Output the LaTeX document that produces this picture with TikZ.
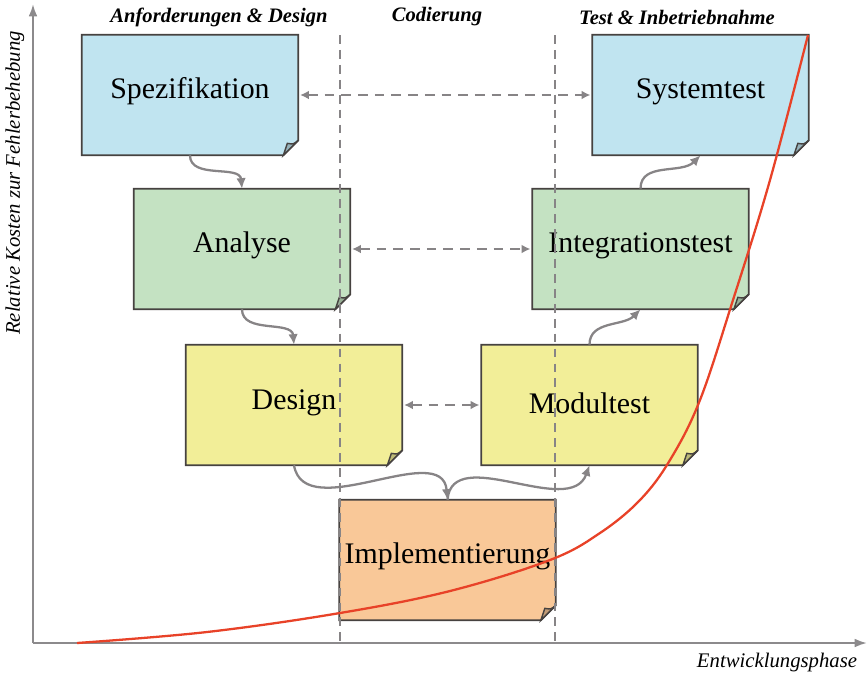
\documentclass[tikz,border=0pt]{standalone}
\usepackage{fontspec}
\setmainfont{Liberation Serif}
\usetikzlibrary{arrows.meta,calc,positioning}
\definecolor{specblue}{RGB}{192,228,240}
\definecolor{anagreen}{RGB}{196,226,194}
\definecolor{desyellow}{RGB}{242,238,152}
\definecolor{implorange}{RGB}{249,200,152}
\definecolor{edgegray}{RGB}{70,66,64}
\definecolor{flowgray}{RGB}{135,132,134}
\definecolor{axisgray}{RGB}{140,138,140}
\definecolor{costred}{RGB}{232,66,40}

\tikzset{
  phase/.style={minimum width=4.32cm, minimum height=2.4cm, inner sep=0pt,
    font=\fontsize{17}{20}\selectfont},
  flow/.style={draw=flowgray, line width=1.3pt, -{Latex[length=6pt,width=5.5pt]}},
  link/.style={draw=flowgray, line width=1.2pt, dash pattern=on 5.5pt off 4pt,
    {Latex[length=5pt,width=5pt]}-{Latex[length=5pt,width=5pt]}, shorten <=1pt, shorten >=1pt},
  border/.style={draw=flowgray, line width=0.9pt, dash pattern=on 5pt off 3.5pt},
  axis/.style={draw=axisgray, line width=1.2pt, -{Latex[length=7pt,width=5pt]}},
  header/.style={font=\fontsize{11.7}{14}\selectfont\bfseries\itshape},
  axislbl/.style={font=\fontsize{11.8}{14}\selectfont\itshape}
}

\begin{document}
\begin{tikzpicture}[x=0.02cm, y=-0.02cm]
    \useasboundingbox (0,0) rectangle (868,677);

    % Phases
    \node[phase] (spec) at (190,95) {};
    \node[phase] (sys) at (700.5,95) {};
    \node[phase] (ana) at (242,249) {};
    \node[phase] (integ) at (640.5,249) {};
    \node[phase] (des) at (294,405) {};
    \node[phase] (mod) at (589.5,405) {};
    \node[phase] (impl) at (447.5,560) {};

    % Paper sheets with folded corner
    \foreach \n/\c in {spec/specblue, sys/specblue, ana/anagreen, integ/anagreen,
                       des/desyellow, mod/desyellow, impl/implorange} {
        \filldraw[fill=\c, draw=edgegray, line width=1pt]
            (\n.north west) -- (\n.north east) -- ($(\n.south east)+(0,0.3cm)$)
            -- ($(\n.south east)+(-0.3cm,0)$) -- (\n.south west) -- cycle;
        \filldraw[fill=\c!78!black, draw=edgegray, line width=0.8pt]
            ($(\n.south east)+(0,0.3cm)$) .. controls ($(\n.south east)+(-0.1cm,0.22cm)$)
            .. ($(\n.south east)+(-0.22cm,0.24cm)$) -- ($(\n.south east)+(-0.3cm,0)$) -- cycle;
    }

    % Texts
    \node[phase, yshift=2pt] at (spec) {Spezifikation};
    \node[phase, yshift=2pt] at (sys) {Systemtest};
    \node[phase, yshift=2pt] at (ana) {Analyse};
    \node[phase, yshift=2pt] at (integ) {Integrationstest};
    \node[phase, yshift=1pt] at (des) {Design};
    \node[phase, yshift=1pt] at (mod) {Modultest};
    \node[phase, yshift=2pt] at (impl) {Implementierung};

    % Axes
    \coordinate (origin) at (33,643);
    \coordinate (ytip) at (33,4);
    \coordinate (xtip) at (867,643);
    \draw[axis] (origin) -- (ytip);
    \draw[axis] (origin) -- (xtip);
    \node[axislbl, rotate=90] (ylbl) at (15,183) {Relative Kosten zur Fehlerbehebung};
    \node[axislbl] (xlbl) at (777,662) {Entwicklungsphase};

    % Phase borders
    \coordinate (b1top) at (340,35);
    \coordinate (b1bot) at (340,645);
    \coordinate (b2top) at (555,35);
    \coordinate (b2bot) at (555,645);
    \draw[border] (b1top) -- (b1bot);
    \draw[border] (b2top) -- (b2bot);

    % Headers
    \node[header] (reqlbl) at (219,17) {Anforderungen \& Design};
    \node[header] (codelbl) at (437,17) {Codierung};
    \node[header] (testlbl) at (677,17) {Test \& Inbetriebnahme};

    % Flow down and up
    \draw[flow] (spec.south) to[out=-90, in=95] (ana.north);
    \draw[flow] (ana.south) to[out=-90, in=95] (des.north);
    \draw[flow] (des.south) to[out=-80, in=95] (impl.north);
    \draw[flow] (impl.north) to[out=85, in=-110] (mod.south);
    \draw[flow] (mod.north) to[out=90, in=-135] (integ.south);
    \draw[flow] (integ.north) to[out=90, in=-135] (sys.south);

    % Test relations
    \draw[link] (spec.east) -- (sys.west);
    \draw[link] (ana.east) -- (integ.west);
    \draw[link] (des.east) -- (mod.west);

    % Cost curve
    \draw[costred, line width=1.3pt] plot[smooth, tension=0.6] coordinates {
        (77,643) (207,632) (340,613) (450,591) (550,560) (600,533) (640,500)
        (670,460) (700,400) (733,300) (770,180) (808,35)};
\end{tikzpicture}
\end{document}
